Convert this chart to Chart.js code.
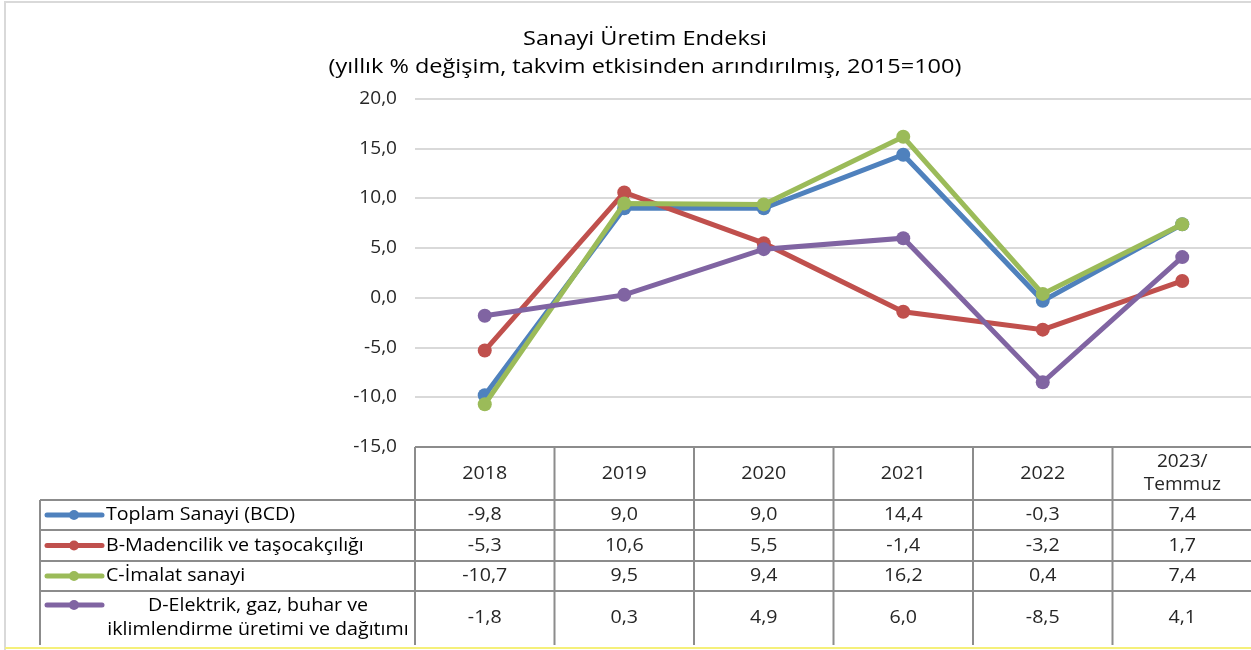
<!DOCTYPE html>
<html>
<head>
<meta charset="utf-8">
<script src="https://cdn.jsdelivr.net/npm/chart.js@4"></script>
<style>
  html, body { margin: 0; padding: 0; background: #fff; overflow: hidden; width: 1251px; height: 650px; }
  #wrap { position: relative; width: 1259px; height: 650px; }
</style>
</head>
<body>
<div id="wrap"><canvas id="chart"></canvas></div>
<script>
// Data
const years = ['2018', '2019', '2020', '2021', '2022', '2023/\nTemmuz'];
const toplam = [-9.8, 9.0, 9.0, 14.4, -0.3, 7.4];
const madencilik = [-5.3, 10.6, 5.5, -1.4, -3.2, 1.7];
const imalat = [-10.7, 9.5, 9.4, 16.2, 0.4, 7.4];
const elektrik = [-1.8, 0.3, 4.9, 6.0, -8.5, 4.1];
const yTicks = [20, 15, 10, 5, 0, -5, -10, -15];

const FONT = '"Open Sans", Lato, sans-serif';
const fmt = v => v.toFixed(1).replace('.', ',');

const series = [
    { label: 'Toplam Sanayi (BCD)', data: toplam, color: '#4F81BD', order: 4 },
    { label: 'B-Madencilik ve taşocakçılığı', data: madencilik, color: '#C0504D', order: 3 },
    { label: 'C-İmalat sanayi', data: imalat, color: '#9BBB59', order: 2 },
    { label: 'D-Elektrik, gaz, buhar ve\niklimlendirme üretimi ve dağıtımı', data: elektrik, color: '#8064A2', order: 1 }
];

// the original's text is a bit wider than Open Sans, so stretch it sideways
function drawText(ctx, txt, x, y, size, sx, align, color) {
    ctx.save();
    ctx.translate(x, y);
    ctx.scale(sx, 1);
    ctx.font = size + 'px ' + FONT;
    ctx.textAlign = align;
    ctx.textBaseline = 'middle';
    ctx.fillStyle = color;
    ctx.fillText(txt, 0, 0);
    ctx.restore();
}

// Title, outer frame, y labels and data table under the plot
const tablePlugin = {
    id: 'dataTable',
    afterDraw(chart) {
        const ctx = chart.ctx;
        const xs = chart.scales.x;
        const ys = chart.scales.y;
        const area = chart.chartArea;
        const colW = xs.getPixelForValue(1) - xs.getPixelForValue(0);
        const rows = [area.bottom, 500, 530, 561, 591, 645];
        const legLeft = 40;
        const TS = 18, TX = 1.09;

        ctx.save();
        // outer frame
        ctx.strokeStyle = '#d9d9d9';
        ctx.lineWidth = 2;
        ctx.beginPath();
        ctx.moveTo(5, 650); ctx.lineTo(5, 2); ctx.lineTo(1259, 2);
        ctx.stroke();
        ctx.strokeStyle = '#f5f07a';
        ctx.beginPath();
        ctx.moveTo(5, 648); ctx.lineTo(1259, 648);
        ctx.stroke();

        // title
        drawText(ctx, 'Sanayi Üretim Endeksi', 645, 39, 20, 1.175, 'center', '#000');
        drawText(ctx, '(yıllık % değişim, takvim etkisinden arındırılmış, 2015=100)', 645, 67, 20, 1.175, 'center', '#000');

        // y labels
        yTicks.forEach(v => drawText(ctx, fmt(v), 397, ys.getPixelForValue(v), 17.5, TX, 'right', '#262626'));

        // grid of the table
        ctx.strokeStyle = '#8c8c8c';
        ctx.lineWidth = 2;
        ctx.beginPath();
        ctx.moveTo(area.left, rows[0]); ctx.lineTo(area.right, rows[0]);
        for (let r = 1; r < rows.length - 1; r++) {
            ctx.moveTo(legLeft, rows[r]); ctx.lineTo(area.right, rows[r]);
        }
        ctx.moveTo(legLeft, rows[1]); ctx.lineTo(legLeft, rows[rows.length - 1]);
        for (let i = 0; i < years.length; i++) {
            const x = xs.getPixelForValue(i) - colW / 2;
            ctx.moveTo(x, rows[0]);
            ctx.lineTo(x, rows[rows.length - 1]);
        }
        ctx.stroke();

        // header
        years.forEach((y, i) => {
            const x = xs.getPixelForValue(i);
            const lines = y.split('\n');
            const cy = (rows[0] + rows[1]) / 2;
            lines.forEach((ln, k) => {
                drawText(ctx, ln, x, cy + (k - (lines.length - 1) / 2) * 23, lines.length > 1 ? 17.5 : TS, TX, 'center', '#262626');
            });
        });

        // rows
        series.forEach((s, r) => {
            const cy = (rows[r + 1] + rows[r + 2]) / 2;
            const ky = r === 3 ? cy - 13 : cy;
            // legend key
            ctx.strokeStyle = s.color;
            ctx.lineWidth = 5;
            ctx.lineCap = 'round';
            ctx.beginPath();
            ctx.moveTo(47, ky); ctx.lineTo(102, ky);
            ctx.stroke();
            ctx.fillStyle = s.color;
            ctx.beginPath();
            ctx.arc(74, ky, 5, 0, Math.PI * 2);
            ctx.fill();

            const lines = s.label.split('\n');
            if (lines.length === 1) {
                drawText(ctx, s.label, 106, cy, TS, TX, 'left', '#000');
            } else {
                lines.forEach((ln, k) => drawText(ctx, ln, 258, cy + (k - 0.5) * 24, TS, TX, 'center', '#000'));
            }
            s.data.forEach((v, i) => drawText(ctx, fmt(v), xs.getPixelForValue(i), cy, TS, TX, 'center', '#262626'));
        });
        ctx.restore();
    }
};

new Chart(document.getElementById('chart'), {
    type: 'line',
    data: {
        labels: years,
        datasets: series.map(s => ({
            label: s.label,
            data: s.data,
            borderColor: s.color,
            backgroundColor: s.color,
            pointBackgroundColor: s.color,
            pointBorderWidth: 0,
            pointRadius: 7,
            borderWidth: 5,
            tension: 0,
            order: s.order
        }))
    },
    options: {
        responsive: true,
        maintainAspectRatio: false,
        animation: false,
        layout: { padding: { left: 335, right: 0, top: 99, bottom: 203 } },
        plugins: { legend: { display: false }, title: { display: false }, tooltip: { enabled: false } },
        scales: {
            x: { display: false, offset: true },
            y: {
                min: -15, max: 20,
                afterFit: s => { s.width = 80; },
                afterBuildTicks: s => { s.ticks = yTicks.map(v => ({ value: v })); },
                ticks: { display: false },
                border: { display: false },
                grid: {
                    color: ctx => ctx.tick && ctx.tick.value === -15 ? 'rgba(0,0,0,0)' : '#d9d9d9',
                    lineWidth: 2,
                    drawTicks: false
                }
            }
        }
    },
    plugins: [tablePlugin]
});
</script>
</body>
</html>
